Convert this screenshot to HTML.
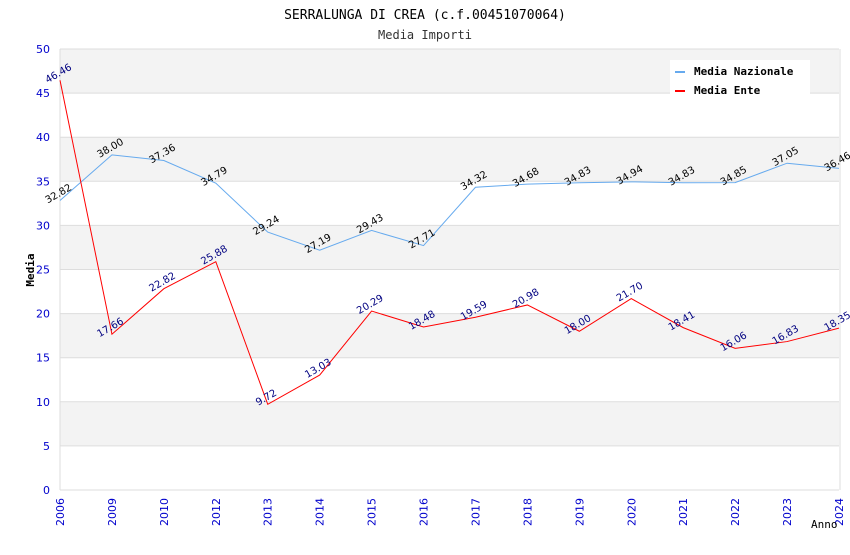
<!DOCTYPE html>
<html><head><meta charset="utf-8"><style>
body{margin:0;background:#fff;width:850px;height:550px;overflow:hidden}
svg text{font-family:"DejaVu Sans","Liberation Sans",sans-serif}
.mono{font-family:"DejaVu Sans Mono","Liberation Mono",monospace}
</style></head><body>
<svg id="chart" width="850" height="550">
<text class="mono" x="425" y="19" text-anchor="middle" font-size="13" fill="#000">SERRALUNGA DI CREA (c.f.00451070064)</text>
<text class="mono" x="425" y="39" text-anchor="middle" font-size="12" fill="#333">Media Importi</text>
<g id="grid"></g><g id="series"></g><g id="axes"></g>
<text class="mono" x="34" y="270" font-size="11" font-weight="bold" text-anchor="middle" transform="rotate(-90 34 270)">Media</text>
<text class="mono" x="811" y="528" font-size="11">Anno</text>
<g>
<rect x="670" y="60" width="140" height="34" fill="#fff"/>
<rect x="675" y="71" width="10" height="2" fill="#66aaee"/>
<text class="mono" x="694" y="75" font-size="11" font-weight="bold">Media Nazionale</text>
<rect x="675" y="90" width="10" height="2" fill="#ff0000"/>
<text class="mono" x="694" y="94" font-size="11" font-weight="bold">Media Ente</text>
</g>
</svg>
<script>
const categories=["2006","2009","2010","2012","2013","2014","2015","2016","2017","2018","2019","2020","2021","2022","2023","2024"];
const nazionale=[32.82,38.00,37.36,34.79,29.24,27.19,29.43,27.71,34.32,34.68,34.83,34.94,34.83,34.85,37.05,36.46];
const ente=[46.46,17.66,22.82,25.88,9.72,13.03,20.29,18.48,19.59,20.98,18.00,21.70,18.41,16.06,16.83,18.35];
const yTicks=[0,5,10,15,20,25,30,35,40,45,50];
const NS="http://www.w3.org/2000/svg";
const L=60,R=839,T=49,B=490;
const x=i=>L+i*(R-L)/(categories.length-1);
const y=v=>B-(v/50)*(B-T);
function mk(tag,attrs,parent){const e=document.createElementNS(NS,tag);for(const k in attrs)e.setAttribute(k,attrs[k]);parent.appendChild(e);return e;}
const grid=document.getElementById('grid'),axes=document.getElementById('axes'),ser=document.getElementById('series');
for(let i=0;i<yTicks.length-1;i++){
  if(i%2==1){const r=mk('rect',{x:L,y:y(yTicks[i+1]),width:R-L,height:y(yTicks[i])-y(yTicks[i+1]),fill:'#f3f3f3'},grid);
  
  }
}
yTicks.forEach(v=>{
  const l=mk('line',{x1:L,x2:R,y1:y(v),y2:y(v),stroke:'#dddddd'},grid);
  
  
  const t=mk('text',{x:L-10,y:y(v)+4,'text-anchor':'end','font-size':11,fill:'#0000cc'},axes);
  t.textContent=v;
  
  
});
mk('line',{x1:L,x2:L,y1:T,y2:B,stroke:'#dddddd'},grid);
mk('line',{x1:R+1,x2:R+1,y1:T,y2:B,stroke:'#dddddd'},grid);
categories.forEach((c,i)=>{
  const t=mk('text',{x:x(i)+4,y:B+8,'text-anchor':'end','font-size':11,fill:'#0000cc',transform:`rotate(-90 ${x(i)+4} ${B+8})`},axes);
  t.textContent=c;
  
  
});
function drawSeries(vals,color,labelColor,name){
  const p=mk('polyline',{points:vals.map((v,i)=>x(i)+','+y(v)).join(' '),fill:'none',stroke:color,'stroke-width':1},ser);
  
  
  vals.forEach((v,i)=>{
    const tx=x(i),ty=y(v)-4;
    const t=mk('text',{x:tx,y:ty,'text-anchor':'middle','font-size':10,fill:labelColor,transform:`rotate(-30 ${tx} ${ty})`},ser);
    t.textContent=v.toFixed(2);
    
    
  });
}
drawSeries(nazionale,'#66aaee','#000','nazionale');
drawSeries(ente,'#ff0000','#000080','ente');
</script>
</body></html>
